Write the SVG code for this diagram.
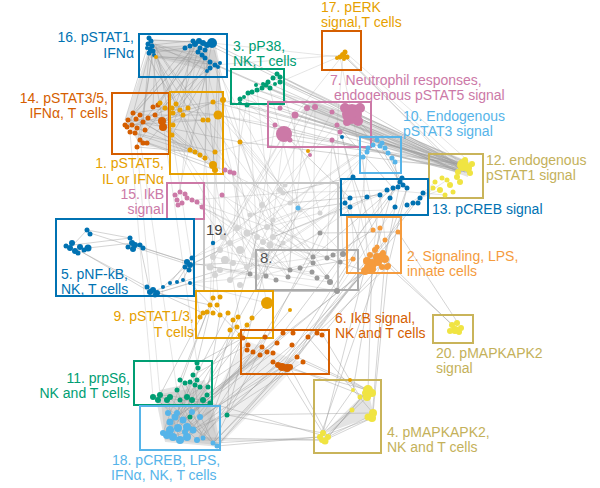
<svg xmlns="http://www.w3.org/2000/svg" width="600" height="488" viewBox="0 0 600 488">
<style>
text{font-family:"Liberation Sans",Arial,sans-serif;font-size:14px}
.e{fill:none;stroke:#9c9c9c;stroke-width:.8;stroke-opacity:.55}
.f{fill:none;stroke:#a0a0a0;stroke-width:.7;stroke-opacity:.4}
.m{fill:#b8b8b8;fill-opacity:.4;stroke:none}
.bx{fill:none;stroke-width:2}
.cb{fill:#0072B2}.cg{fill:#009E73}.cv{fill:#D55E00}.co{fill:#E69F00}.cp{fill:#CC79A7}.cs{fill:#56B4E9}.cy{fill:#F0E442}.c2{fill:#F59B3D}.c8{fill:#9a9a9a}.c19{fill:#d4d4d4}
</style>
<rect width="600" height="488" fill="#fff"/>
<g id="connectors">
<path class="m" d="M148 40L215 42L220 66L205 70L152 57Z"/>
<path class="m" d="M150 45L215 50L223 100L220 170L200 155L140 145L125 120Z"/>
<path class="m" d="M468 161L468 177L380 146L300 112L312 100Z"/>
<path class="m" d="M155 395L210 385L220 447L165 442Z"/>
<path class="m" d="M160 390L205 380L218 445L165 440Z"/>
<path class="m" d="M245 340L300 362L220 445L205 412Z" style="fill-opacity:.22"/>
<path class="m" d="M323 434L368 390L374 416Z"/>
<path class="e" d="M150 40L212 43M152 45L200 40M153 50L207 52M148 55L210 62M155 57L215 65M150 42L207 70M156 48L197 45M151 53L185 48M149 46L218 67M154 40L203 42M150 57L205 58M155 44L220 63"/>
<path class="e" d="M150 50L130 125M152 55L140 140M148 45L125 120M155 57L153 107M150 48L163 123M153 52L137 147M156 45L172 135M149 55L143 122M185 48L133 113M197 45L128 120M203 42L135 133M212 43L140 140M207 52L155 115M210 62L163 123M215 65L147 143M207 70L137 128M200 40L125 125M193 45L158 105M210 68L172 135M212 43L190 150M207 52L205 158M203 55L215 170M218 67L213 165M198 52L173 125M150 42L200 155M152 50L215 152M155 55L195 152M148 57L213 165M205 58L180 110M200 40L160 103M220 63L218 115M215 65L223 100M149 38L203 120M151 41L208 120M154 55L173 113M190 46L183 115M195 44L176 104"/>
<path class="e" d="M133 113L213 102M140 115L218 115M128 120L203 120M125 125L208 120M132 125L223 100M137 128L190 150M130 132L200 155M135 133L215 152M143 122L213 165M153 107L218 115M155 115L205 158M163 123L215 170M140 140L213 165M137 147L195 152M147 143L215 170M128 120L240 142M125 125L172 108M163 123L188 108M162 127L213 102M127 127L183 115M136 119L200 155M148 118L195 152"/>
<path class="e" d="M463 165L352 115M463 165L284 134M458 172L275 125M468 168L295 115M463 165L278 75M470 173L268 83M460 170L248 93M465 168L212 43M458 172L215 65M463 165L223 100M470 173L218 115M465 168L240 98M473 165L273 78M460 170L343 55M455 170L210 62M468 168L257 90M463 165L315 107M460 172L332 112M465 170L280 82M462 168L203 42M466 166L247 105M470 170L213 102M460 168L240 142M463 165L307 108M468 165L290 140M465 172L337 125M470 168L340 132M458 170L332 140M466 164L297 115M462 172L280 108M472 166L345 108M460 166L360 108"/>
<path class="e" d="M400 182L385 259M393 188L372 264M353 177L373 230M345 203L367 261M407 188L388 266M377 140L400 182M395 162L398 187M385 148L403 185M342 137L353 177M332 140L345 203M352 115L377 140M352 115L400 182M337 125L393 188M284 134L350 198M290 203L380 195M273 237L387 190M313 257L393 188M343 254L400 182M333 255L373 230M327 258L365 271M290 270L353 259M320 233L398 232M300 210L345 203M283 193L353 177"/>
<path class="e" d="M273 237L227 415M257 237L210 403M300 210L200 387M320 233L213 443M313 257L197 440M343 254L203 438M365 271L207 395M377 257L217 446M383 253L227 415M372 264L192 412M353 259L297 357M385 259L322 335M388 266L317 333M377 247L283 367M398 232L308 337M372 264L368 390M385 259L372 418M367 261L323 433M388 266L373 413M380 228L353 390M407 188L320 437M423 193L290 367M400 182L282 367M413 203L297 357M388 266L455 327M385 259L452 325M398 232L458 323"/>
<path class="e" d="M243 338L197 363M248 345L193 375M253 352L187 397M260 355L203 400M267 352L192 412M273 353L183 420M282 367L200 417M287 368L213 443M290 367L217 446M297 357L193 430M303 362L187 437M277 343L170 422M243 338L167 435M213 298L197 363M203 313L160 395M210 305L180 380M220 315L208 387M228 313L175 417M237 327L190 417M247 325L203 438M267 303L197 380M207 312L163 433M290 310L210 403M233 320L227 415M262 347L178 428M292 345L185 432M308 337L197 440M317 333L213 443M283 333L167 435M278 365L173 437M265 337L187 427"/>
<path class="e" d="M197 363L173 437M195 385L167 435M180 380L203 438M160 395L217 446M153 397L213 443M158 400L197 440M167 400L180 440M187 397L170 422M192 400L163 433M203 400L175 417M210 403L187 437M208 387L183 420M177 390L193 430M198 368L187 427M193 375L200 417M185 383L213 443M190 382L167 435M227 415L173 437M160 395L203 400M153 397L210 403M170 397L203 438M180 400L217 446M207 395L178 428M200 387L170 430"/>
<path class="e" d="M323 433L227 415M320 437L213 443M325 440L203 438M328 437L290 367M323 433L282 367M368 390L297 357M368 390L283 367M372 418L325 440M368 417L328 437M352 410L323 433M353 390L320 437M367 397L290 367M372 393L303 362M368 390L350 380M373 413L308 337M360 397L323 335M320 437L217 446M325 440L197 440M328 437L210 403M373 413L227 415M365 393L325 441M367 397L322 440M372 418L320 437M368 390L328 437"/>
<path class="e" d="M73 245L87 230M73 245L130 238M88 248L132 243M82 252L150 292M87 230L130 238M135 245L187 262M140 245L150 292M143 248L188 262M90 233L190 265M78 250L147 287M157 293L190 283M163 287L185 267M177 282L192 258M183 280L190 265M170 283L187 262M190 265L220 250M190 265L233 263M157 293L210 305M153 290L203 313M150 292L220 270M190 283L243 338M187 262L250 274"/>
<path class="f" d="M215 65L343 55M212 43L340 57M280 82L343 55M263 87L352 115M248 93L284 134M240 98L275 125M278 75L352 115M270 88L332 112M257 90L315 107M223 100L284 134M218 115L275 125M215 152L284 134M213 165L290 203M240 142L300 210M225 170L223 237M232 172L247 267M197 202L223 237M192 200L283 193M202 207L257 237M240 142L230 280M218 115L213 298M215 170L210 305M205 158L220 315M172 135L200 317M163 123L197 363M137 147L160 395M140 140L177 390M130 132L153 397M213 165L243 338M223 100L267 303M315 107L313 257M337 125L343 254M332 140L327 258M295 115L290 270M352 115L383 253M342 137L372 264M380 195L372 264M363 157L367 261M368 148L355 260M284 134L266 276M275 125L250 274M307 108L288 277M248 93L240 142M210 68L202 207M197 45L180 192M207 70L177 200M352 115L463 165M343 55L465 168M347 57L458 172M345 52L473 165M340 57L352 115M343 55L337 125M343 55L295 115"/>
<path class="f" d="M213 102L320 233M218 115L343 254M240 142L337 291M223 100L290 270M215 152L313 257M213 165L327 277M172 135L266 276M163 123L250 274M203 120L288 277M208 120L330 282M284 134L223 237M295 115L210 267M315 107L230 280M332 112L247 267M337 125L220 250M352 115L257 277M307 108L213 257M248 93L257 237M257 90L273 237M268 82L300 210M280 82L320 213M240 98L237 228M212 43L267 227M207 70L247 233M215 65L283 193M197 202L343 254M202 207L313 263M192 200L290 270M222 195L327 258M222 195L263 242M187 262L237 228M190 265L300 210M190 283L257 277M157 293L247 267M190 283L267 303M192 258L267 227M353 177L263 242M350 198L247 267M345 203L230 280M367 197L257 277M380 195L273 237M387 190L283 193M363 157L300 210M373 145L290 203M367 152L320 213M377 140L247 233"/>
<path class="f" d="M463 165L395 162M458 172L388 153M447 180L413 203M435 182L423 193M433 188L407 205M440 190L420 198M445 195L387 190M380 195L388 266M350 198L355 260M353 177L313 257M345 203L320 233M387 190L330 282M395 207L337 291M223 237L250 274M230 243L266 276M237 228L276 280M247 233L288 277M257 237L290 270M267 227L313 257M273 237L313 263M263 242L327 258M220 250L317 278M213 257L327 277M210 267L330 282M220 270L337 291M233 263L312 272M247 267L333 255M257 277L343 254M230 280L320 233M290 203L250 215M300 210L273 220M283 193L237 228M320 213L267 227"/>
</g>
<g id="n16">
<rect class="bx" stroke="#0072B2" x="139" y="34" width="88" height="43"/>
<g class="cb"><circle cx="149" cy="38" r="2.5"/><circle cx="151" cy="41" r="2.5"/><circle cx="148" cy="44" r="2.5"/><circle cx="152" cy="46" r="2.5"/><circle cx="150" cy="49" r="2.5"/><circle cx="153" cy="51" r="2.5"/><circle cx="149" cy="53" r="2.5"/><circle cx="154" cy="55" r="2"/><circle cx="147" cy="48" r="2"/><circle cx="185" cy="48" r="2.5"/><circle cx="190" cy="46" r="2.5"/><circle cx="195" cy="44" r="3"/><circle cx="199" cy="41" r="3"/><circle cx="203" cy="43" r="3"/><circle cx="207" cy="45" r="3"/><circle cx="212" cy="43" r="5"/><circle cx="200" cy="48" r="2.5"/><circle cx="205" cy="50" r="2.5"/><circle cx="198" cy="52" r="2.5"/><circle cx="202" cy="55" r="2.5"/><circle cx="205" cy="58" r="2.5"/><circle cx="210" cy="62" r="2.5"/><circle cx="215" cy="65" r="2.5"/><circle cx="220" cy="63" r="2"/><circle cx="210" cy="68" r="2.5"/><circle cx="207" cy="71" r="2"/><circle cx="218" cy="67" r="2"/><circle cx="193" cy="41" r="2.5"/></g>
<circle class="co" cx="156" cy="57" r="2"/>
<text x="134" y="42" text-anchor="end" fill="#0072B2">16. pSTAT1,</text>
<text x="134" y="58" text-anchor="end" fill="#0072B2">IFNα</text>
</g>
<g id="n3">
<rect class="bx" stroke="#009E73" x="231" y="69" width="53" height="35"/>
<g class="cg"><circle cx="240" cy="99" r="2.5"/><circle cx="244" cy="97" r="2"/><circle cx="248" cy="93" r="2.5"/><circle cx="252" cy="92" r="2.5"/><circle cx="257" cy="90" r="2.5"/><circle cx="262" cy="88" r="2.5"/><circle cx="266" cy="85" r="2.5"/><circle cx="270" cy="88" r="2.5"/><circle cx="268" cy="82" r="2.5"/><circle cx="273" cy="78" r="2.5"/><circle cx="277" cy="74" r="2.5"/><circle cx="280" cy="77" r="2.5"/><circle cx="280" cy="82" r="2.5"/><circle cx="275" cy="84" r="2"/><circle cx="263" cy="84" r="2"/><circle cx="247" cy="105" r="2.5"/><circle cx="240" cy="103" r="2"/><circle cx="256" cy="85" r="2"/></g>
<text x="233" y="51" fill="#009E73">3. pP38,</text>
<text x="233" y="66" fill="#009E73">NK,T cells</text>
</g>
<g id="n14">
<rect class="bx" stroke="#D55E00" x="112" y="93" width="57" height="61"/>
<g class="cv"><circle cx="133" cy="113" r="2.5"/><circle cx="140" cy="115" r="2.5"/><circle cx="128" cy="120" r="2.5"/><circle cx="125" cy="125" r="2.5"/><circle cx="132" cy="125" r="2.5"/><circle cx="137" cy="128" r="2.5"/><circle cx="130" cy="132" r="2.5"/><circle cx="135" cy="133" r="2.5"/><circle cx="143" cy="122" r="2.5"/><circle cx="153" cy="107" r="2.5"/><circle cx="158" cy="105" r="2.5"/><circle cx="155" cy="115" r="2.5"/><circle cx="162" cy="121" r="4"/><circle cx="163" cy="127" r="4"/><circle cx="140" cy="140" r="2.5"/><circle cx="143" cy="143" r="2.5"/><circle cx="137" cy="147" r="2.5"/><circle cx="147" cy="143" r="2.5"/><circle cx="127" cy="127" r="2.5"/><circle cx="136" cy="119" r="2.5"/><circle cx="148" cy="118" r="2.5"/><circle cx="145" cy="130" r="2.5"/></g>
<text x="108" y="103" text-anchor="end" fill="#D55E00">14. pSTAT3/5,</text>
<text x="108" y="118" text-anchor="end" fill="#D55E00">IFNα, T cells</text>
</g>
<g id="n1">
<rect class="bx" stroke="#E69F00" x="170" y="92" width="53" height="82"/>
<g class="co"><circle cx="160" cy="103" r="2.5"/><circle cx="172" cy="108" r="2.5"/><circle cx="180" cy="110" r="2.5"/><circle cx="188" cy="108" r="2.5"/><circle cx="173" cy="113" r="2.5"/><circle cx="183" cy="115" r="2.5"/><circle cx="213" cy="102" r="2.5"/><circle cx="223" cy="100" r="3"/><circle cx="218" cy="115" r="4.5"/><circle cx="203" cy="120" r="2.5"/><circle cx="208" cy="120" r="2.5"/><circle cx="173" cy="125" r="2.5"/><circle cx="172" cy="135" r="2.5"/><circle cx="190" cy="150" r="2.5"/><circle cx="195" cy="152" r="2.5"/><circle cx="200" cy="155" r="2.5"/><circle cx="205" cy="158" r="2.5"/><circle cx="215" cy="152" r="2.5"/><circle cx="213" cy="165" r="4"/><circle cx="215" cy="170" r="3"/><circle cx="240" cy="142" r="2.5"/><circle cx="165" cy="108" r="2.5"/><circle cx="176" cy="104" r="2.5"/></g>
<g class="cp"><circle cx="225" cy="170" r="2.5"/><circle cx="230" cy="172" r="2.5"/><circle cx="234" cy="173" r="2.5"/></g>
<text x="164" y="168" text-anchor="end" fill="#E69F00">1. pSTAT5,</text>
<text x="164" y="184" text-anchor="end" fill="#E69F00">IL or IFNα</text>
</g>
<g id="n7">
<rect class="bx" stroke="#CC79A7" x="268" y="102" width="103" height="45"/>
<g class="cp"><circle cx="352" cy="114" r="10"/><circle cx="345" cy="108" r="5"/><circle cx="360" cy="108" r="5"/><circle cx="358" cy="121" r="5"/><circle cx="347" cy="122" r="4"/><circle cx="284" cy="134" r="8"/><circle cx="275" cy="125" r="2.5"/><circle cx="280" cy="108" r="2.5"/><circle cx="295" cy="115" r="3.5"/><circle cx="307" cy="108" r="3"/><circle cx="315" cy="107" r="3"/><circle cx="332" cy="112" r="2.5"/><circle cx="337" cy="125" r="2.5"/><circle cx="340" cy="132" r="2.5"/><circle cx="332" cy="140" r="2.5"/><circle cx="290" cy="140" r="2.5"/><circle cx="310" cy="155" r="2"/></g>
<circle class="cb" cx="342" cy="137" r="2"/>
<circle class="co" cx="308" cy="151" r="2"/>
<text x="330" y="85" fill="#CC79A7">7. Neutrophil responses,</text>
<text x="334" y="100" fill="#CC79A7">endogenous pSTAT5 signal</text>
</g>
<g id="n17">
<rect class="bx" stroke="#D55E00" x="322" y="31" width="39" height="39"/>
<g class="co"><circle cx="343" cy="55" r="3"/><circle cx="340" cy="57" r="2.5"/><circle cx="345" cy="52" r="2.5"/><circle cx="347" cy="57" r="2.5"/><circle cx="337" cy="58" r="2"/><circle cx="344" cy="59" r="2"/></g>
<text x="321" y="12" fill="#E69F00">17. pERK</text>
<text x="321" y="27" fill="#E69F00">signal,T cells</text>
</g>
<g id="n10">
<rect class="bx" stroke="#56B4E9" x="360" y="137" width="41" height="36"/>
<g class="cs"><circle cx="377" cy="140" r="2.5"/><circle cx="382" cy="143" r="2.5"/><circle cx="373" cy="145" r="2.5"/><circle cx="385" cy="148" r="2.5"/><circle cx="388" cy="153" r="2.5"/><circle cx="392" cy="158" r="2.5"/><circle cx="395" cy="162" r="2.5"/><circle cx="367" cy="152" r="2.5"/><circle cx="363" cy="157" r="2.5"/><circle cx="368" cy="148" r="2.5"/><circle cx="380" cy="146" r="2.5"/></g>
<text x="403" y="121" fill="#56B4E9">10. Endogenous</text>
<text x="403" y="136" fill="#56B4E9">pSTAT3 signal</text>
</g>
<g id="n12">
<rect class="bx" stroke="#C9B45A" x="429" y="154" width="54" height="44"/>
<g class="cy"><circle cx="463" cy="165" r="6"/><circle cx="468" cy="168" r="4"/><circle cx="472" cy="164" r="3"/><circle cx="470" cy="173" r="3"/><circle cx="458" cy="172" r="3"/><circle cx="447" cy="180" r="2.5"/><circle cx="442" cy="178" r="2.5"/><circle cx="435" cy="182" r="2.5"/><circle cx="433" cy="188" r="2.5"/><circle cx="440" cy="190" r="3"/><circle cx="450" cy="185" r="3"/><circle cx="460" cy="182" r="3"/><circle cx="453" cy="192" r="2.5"/><circle cx="445" cy="195" r="2.5"/><circle cx="457" cy="177" r="3"/><circle cx="465" cy="160" r="3"/></g>
<text x="486" y="165" fill="#C4B15A">12. endogenous</text>
<text x="486" y="180" fill="#C4B15A">pSTAT1 signal</text>
</g>
<g id="n13">
<rect class="bx" stroke="#0072B2" x="341" y="179" width="87" height="36"/>
<g class="cb"><circle cx="400" cy="182" r="2.5"/><circle cx="398" cy="187" r="2.5"/><circle cx="403" cy="185" r="2.5"/><circle cx="393" cy="188" r="2.5"/><circle cx="407" cy="188" r="2.5"/><circle cx="387" cy="190" r="2.5"/><circle cx="380" cy="195" r="2.5"/><circle cx="353" cy="177" r="2.5"/><circle cx="350" cy="198" r="2.5"/><circle cx="367" cy="197" r="2.5"/><circle cx="345" cy="203" r="2.5"/><circle cx="350" cy="207" r="2.5"/><circle cx="390" cy="198" r="2.5"/><circle cx="395" cy="207" r="2.5"/><circle cx="407" cy="205" r="2.5"/><circle cx="413" cy="203" r="2.5"/><circle cx="420" cy="198" r="2.5"/><circle cx="423" cy="193" r="2.5"/><circle cx="402" cy="178" r="2.5"/><circle cx="418" cy="203" r="2.5"/></g>
<text x="432" y="214" fill="#0072B2">13. pCREB signal</text>
</g>
<g id="n19">
<rect class="bx" stroke="#c6c6c6" x="204" y="183" width="134" height="108"/>
<g class="c19"><circle cx="223" cy="237" r="3"/><circle cx="230" cy="243" r="3"/><circle cx="237" cy="228" r="3"/><circle cx="247" cy="233" r="3.5"/><circle cx="257" cy="237" r="3"/><circle cx="267" cy="227" r="3"/><circle cx="273" cy="237" r="3"/><circle cx="263" cy="242" r="3"/><circle cx="220" cy="250" r="3"/><circle cx="213" cy="257" r="3"/><circle cx="210" cy="267" r="3.5"/><circle cx="220" cy="270" r="3"/><circle cx="233" cy="263" r="3"/><circle cx="247" cy="267" r="3"/><circle cx="257" cy="277" r="3"/><circle cx="230" cy="280" r="3"/><circle cx="290" cy="203" r="2.5"/><circle cx="300" cy="210" r="2.5"/><circle cx="283" cy="193" r="2.5"/><circle cx="320" cy="213" r="2.5"/><circle cx="250" cy="215" r="2.5"/><circle cx="273" cy="220" r="2.5"/><circle cx="240" cy="250" r="4"/><circle cx="255" cy="255" r="3"/><circle cx="225" cy="260" r="4"/><circle cx="215" cy="275" r="3"/><circle cx="240" cy="285" r="3"/><circle cx="262" cy="205" r="3"/><circle cx="280" cy="190" r="3"/><circle cx="285" cy="185" r="2.5"/><circle cx="270" cy="245" r="3.5"/><circle cx="262" cy="250" r="3"/><circle cx="283" cy="243" r="2.5"/></g>
<circle class="cb" cx="213" cy="243" r="2.2"/>
<circle class="cs" cx="298" cy="208" r="2.5"/>
<text x="206" y="235" fill="#444" style="font-size:15px">19.</text>
</g>
<g id="n8">
<rect class="bx" stroke="#ababab" x="256" y="250" width="102" height="40"/>
<g class="c8"><circle cx="250" cy="274" r="2.5"/><circle cx="266" cy="276" r="2.5"/><circle cx="276" cy="280" r="2.5"/><circle cx="288" cy="277" r="2.5"/><circle cx="290" cy="270" r="2.5"/><circle cx="313" cy="257" r="2.5"/><circle cx="313" cy="263" r="2.5"/><circle cx="327" cy="258" r="2.5"/><circle cx="333" cy="255" r="2.5"/><circle cx="343" cy="254" r="3"/><circle cx="317" cy="278" r="2.5"/><circle cx="327" cy="277" r="2.5"/><circle cx="330" cy="282" r="3"/><circle cx="337" cy="291" r="3"/><circle cx="320" cy="233" r="2.5"/><circle cx="312" cy="272" r="2.5"/><circle cx="300" cy="268" r="2.5"/><circle cx="340" cy="262" r="2.5"/></g>
<text x="260" y="263" fill="#555" style="font-size:15px">8.</text>
</g>
<g id="n2">
<rect class="bx" stroke="#F59B3D" x="347" y="217" width="54" height="56"/>
<g class="c2"><circle cx="377" cy="257" r="4"/><circle cx="382" cy="256" r="4"/><circle cx="367" cy="261" r="4"/><circle cx="372" cy="264" r="5"/><circle cx="378" cy="262" r="4"/><circle cx="385" cy="259" r="4"/><circle cx="388" cy="266" r="3"/><circle cx="382" cy="267" r="3"/><circle cx="372" cy="269" r="4"/><circle cx="365" cy="271" r="4"/><circle cx="353" cy="259" r="2.5"/><circle cx="373" cy="230" r="2.5"/><circle cx="380" cy="228" r="2.5"/><circle cx="398" cy="232" r="2.5"/><circle cx="385" cy="240" r="2.5"/><circle cx="377" cy="247" r="2.5"/><circle cx="383" cy="253" r="3"/><circle cx="367" cy="267" r="3"/><circle cx="387" cy="267" r="3"/><circle cx="375" cy="250" r="3"/><circle cx="370" cy="255" r="3"/></g>
<text x="407" y="261" fill="#F59B3D">2. Signaling, LPS,</text>
<text x="407" y="276" fill="#F59B3D">innate cells</text>
</g>
<g id="n15">
<rect class="bx" stroke="#CC79A7" x="167" y="183" width="37" height="36"/>
<g class="cp"><circle cx="175" cy="195" r="2.5"/><circle cx="180" cy="192" r="2.5"/><circle cx="177" cy="200" r="2.5"/><circle cx="182" cy="203" r="2.5"/><circle cx="187" cy="198" r="2.5"/><circle cx="192" cy="200" r="2.5"/><circle cx="197" cy="202" r="2.5"/><circle cx="202" cy="207" r="2.5"/><circle cx="178" cy="205" r="2.5"/><circle cx="222" cy="195" r="2.5"/><circle cx="185" cy="194" r="2.5"/></g>
<text x="164" y="199" text-anchor="end" fill="#CC79A7">15. IkB</text>
<text x="164" y="214" text-anchor="end" fill="#CC79A7">signal</text>
</g>
<g id="n5">
<rect class="bx" stroke="#0072B2" x="56" y="219" width="138" height="77"/>
<g class="cb"><circle cx="72" cy="243" r="3"/><circle cx="70" cy="248" r="3"/><circle cx="75" cy="251" r="3"/><circle cx="80" cy="247" r="3"/><circle cx="78" cy="253" r="2.5"/><circle cx="84" cy="250" r="2.5"/><circle cx="88" cy="248" r="3.5"/><circle cx="66" cy="246" r="2.5"/><circle cx="87" cy="230" r="2.5"/><circle cx="90" cy="234" r="2.5"/><circle cx="130" cy="238" r="2.5"/><circle cx="132" cy="243" r="3"/><circle cx="135" cy="245" r="3"/><circle cx="128" cy="247" r="2.5"/><circle cx="140" cy="245" r="2.5"/><circle cx="143" cy="248" r="2.5"/><circle cx="133" cy="249" r="3"/><circle cx="187" cy="262" r="3"/><circle cx="190" cy="265" r="3"/><circle cx="185" cy="267" r="2.5"/><circle cx="192" cy="258" r="2.5"/><circle cx="189" cy="270" r="2.5"/><circle cx="150" cy="292" r="3"/><circle cx="153" cy="290" r="3"/><circle cx="157" cy="293" r="3"/><circle cx="147" cy="287" r="2.5"/><circle cx="163" cy="287" r="2"/><circle cx="170" cy="283" r="2"/><circle cx="177" cy="282" r="2"/><circle cx="183" cy="280" r="2"/><circle cx="190" cy="283" r="2"/><circle cx="155" cy="295" r="2.5"/></g>
<text x="61" y="279" fill="#0072B2">5. pNF-kB,</text>
<text x="61" y="294" fill="#0072B2">NK, T cells</text>
</g>
<g id="n9">
<rect class="bx" stroke="#E69F00" x="196" y="291" width="77" height="47"/>
<g class="co"><circle cx="213" cy="298" r="2.5"/><circle cx="220" cy="297" r="2.5"/><circle cx="210" cy="305" r="2.5"/><circle cx="203" cy="313" r="2.5"/><circle cx="200" cy="317" r="2.5"/><circle cx="207" cy="312" r="2.5"/><circle cx="213" cy="313" r="2.5"/><circle cx="220" cy="315" r="2.5"/><circle cx="228" cy="313" r="2.5"/><circle cx="233" cy="320" r="2.5"/><circle cx="238" cy="317" r="2.5"/><circle cx="237" cy="327" r="2.5"/><circle cx="247" cy="325" r="2.5"/><circle cx="252" cy="318" r="2.5"/><circle cx="267" cy="303" r="6"/><circle cx="290" cy="310" r="2"/><circle cx="217" cy="305" r="2.5"/><circle cx="230" cy="330" r="2.5"/><circle cx="240" cy="335" r="2.5"/></g>
<text x="194" y="321" text-anchor="end" fill="#E69F00">9. pSTAT1/3,</text>
<text x="194" y="337" text-anchor="end" fill="#E69F00">T cells</text>
</g>
<g id="n6">
<rect class="bx" stroke="#D55E00" x="241" y="330" width="88" height="44"/>
<g class="cv"><circle cx="243" cy="338" r="2.5"/><circle cx="248" cy="345" r="2.5"/><circle cx="247" cy="350" r="2.5"/><circle cx="253" cy="352" r="2.5"/><circle cx="260" cy="355" r="2.5"/><circle cx="267" cy="352" r="2.5"/><circle cx="273" cy="353" r="2.5"/><circle cx="277" cy="343" r="2.5"/><circle cx="283" cy="333" r="2.5"/><circle cx="293" cy="333" r="2.5"/><circle cx="292" cy="345" r="2.5"/><circle cx="297" cy="357" r="2.5"/><circle cx="282" cy="367" r="4"/><circle cx="287" cy="368" r="4"/><circle cx="290" cy="367" r="3"/><circle cx="303" cy="362" r="2.5"/><circle cx="308" cy="337" r="2.5"/><circle cx="317" cy="333" r="2.5"/><circle cx="322" cy="335" r="2.5"/><circle cx="265" cy="337" r="2.5"/><circle cx="273" cy="362" r="2.5"/><circle cx="278" cy="365" r="3"/><circle cx="262" cy="347" r="2.5"/></g>
<text x="335" y="323" fill="#D55E00">6. IkB signal,</text>
<text x="335" y="338" fill="#D55E00">NK and T cells</text>
</g>
<g id="n20">
<rect class="bx" stroke="#C9B45A" x="433" y="315" width="40" height="28"/>
<g class="cy"><circle cx="452" cy="325" r="3"/><circle cx="457" cy="323" r="3"/><circle cx="461" cy="328" r="3"/><circle cx="455" cy="330" r="4"/><circle cx="450" cy="331" r="3"/><circle cx="459" cy="332" r="3"/></g>
<text x="436" y="358" fill="#C4B15A">20. pMAPKAPK2</text>
<text x="436" y="373" fill="#C4B15A">signal</text>
</g>
<g id="n11">
<rect class="bx" stroke="#009E73" x="134" y="361" width="78" height="44"/>
<g class="cg"><circle cx="197" cy="363" r="2.5"/><circle cx="198" cy="368" r="2.5"/><circle cx="193" cy="375" r="2.5"/><circle cx="197" cy="380" r="2.5"/><circle cx="195" cy="385" r="2.5"/><circle cx="200" cy="387" r="2.5"/><circle cx="208" cy="387" r="2.5"/><circle cx="190" cy="382" r="2.5"/><circle cx="180" cy="380" r="2.5"/><circle cx="185" cy="383" r="2.5"/><circle cx="177" cy="390" r="2.5"/><circle cx="160" cy="395" r="3"/><circle cx="153" cy="397" r="3"/><circle cx="158" cy="400" r="3"/><circle cx="167" cy="400" r="3"/><circle cx="187" cy="397" r="3"/><circle cx="192" cy="400" r="3"/><circle cx="203" cy="400" r="3"/><circle cx="210" cy="403" r="2.5"/><circle cx="207" cy="395" r="2.5"/><circle cx="227" cy="415" r="2.5"/><circle cx="190" cy="417" r="2.5"/><circle cx="170" cy="397" r="3"/><circle cx="180" cy="400" r="2.5"/></g>
<text x="130" y="383" text-anchor="end" fill="#009E73">11. prpS6,</text>
<text x="130" y="398" text-anchor="end" fill="#009E73">NK and T cells</text>
</g>
<g id="n18">
<rect class="bx" stroke="#56B4E9" x="140" y="406" width="80" height="44"/>
<g class="cs"><circle cx="170" cy="422" r="3.5"/><circle cx="175" cy="417" r="3.5"/><circle cx="183" cy="420" r="3.5"/><circle cx="167" cy="435" r="4"/><circle cx="173" cy="437" r="4"/><circle cx="180" cy="440" r="4"/><circle cx="187" cy="437" r="4"/><circle cx="193" cy="430" r="3.5"/><circle cx="187" cy="427" r="4"/><circle cx="197" cy="440" r="3"/><circle cx="203" cy="438" r="2.5"/><circle cx="213" cy="443" r="2.5"/><circle cx="217" cy="446" r="2.5"/><circle cx="163" cy="433" r="3"/><circle cx="192" cy="412" r="3"/><circle cx="200" cy="417" r="3"/><circle cx="178" cy="428" r="4"/><circle cx="170" cy="430" r="4"/><circle cx="185" cy="432" r="3"/><circle cx="177" cy="413" r="3"/><circle cx="168" cy="413" r="3"/></g>
<text x="112" y="465" fill="#56B4E9">18. pCREB, LPS,</text>
<text x="111" y="480" fill="#56B4E9">IFNα, NK, T cells</text>
</g>
<g id="n4">
<rect class="bx" stroke="#C9B45A" x="314" y="380" width="67" height="73"/>
<g class="cy"><circle cx="368" cy="390" r="5"/><circle cx="372" cy="393" r="4"/><circle cx="367" cy="397" r="4"/><circle cx="373" cy="413" r="4"/><circle cx="372" cy="418" r="4"/><circle cx="368" cy="417" r="3.5"/><circle cx="353" cy="390" r="2"/><circle cx="360" cy="397" r="2.5"/><circle cx="352" cy="410" r="2.5"/><circle cx="323" cy="433" r="3"/><circle cx="320" cy="437" r="3"/><circle cx="328" cy="437" r="3"/><circle cx="325" cy="441" r="3.5"/><circle cx="322" cy="440" r="3"/><circle cx="365" cy="393" r="3"/></g>
<circle class="co" cx="350" cy="380" r="2"/>
<text x="387" y="437" fill="#C4B15A">4. pMAPKAPK2,</text>
<text x="387" y="452" fill="#C4B15A">NK and T cells</text>
</g>
</svg>
